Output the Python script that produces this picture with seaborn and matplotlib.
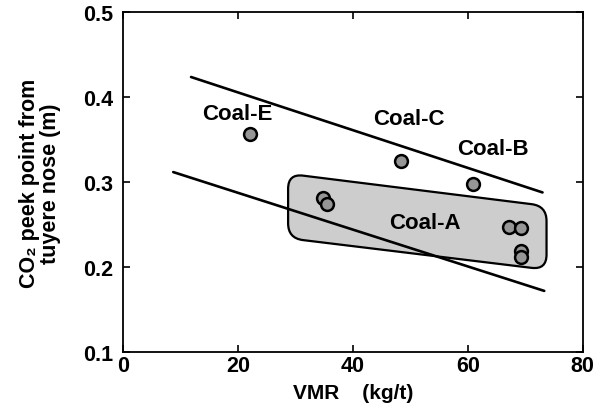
import numpy as np
import pandas as pd
import matplotlib
matplotlib.use("Agg")
import matplotlib.pyplot as plt
from matplotlib.path import Path
from matplotlib.patches import PathPatch
import seaborn as sns

# ---- data ----
vmr = [22.1, 48.4, 60.9, 34.7, 35.4, 67.1, 69.3, 69.2, 69.2]
co2_peak = [0.357, 0.325, 0.298, 0.282, 0.274, 0.247, 0.246, 0.219, 0.212]
coal = ["E", "C", "B", "A", "A", "A", "A", "A", "A"]

upper_x = [11.8, 73.0]
upper_y = [0.424, 0.288]
lower_x = [8.7, 73.3]
lower_y = [0.312, 0.172]

box_x = [28.7, 73.7, 73.7, 28.7]
box_y = [0.310, 0.272, 0.197, 0.234]

label_text = ["Coal-E", "Coal-C", "Coal-B", "Coal-A"]
label_x = [19.8, 49.8, 64.3, 52.5]
label_y = [0.381, 0.375, 0.340, 0.253]

xticks = [0, 20, 40, 60, 80]
yticks = [0.1, 0.2, 0.3, 0.4, 0.5]

# ---- style ----
sns.set_theme(style="ticks")
plt.rcParams["font.family"] = ["Liberation Sans", "DejaVu Sans"]
plt.rcParams["font.weight"] = "bold"
plt.rcParams["text.color"] = "black"
plt.rcParams["axes.labelcolor"] = "black"
plt.rcParams["xtick.color"] = "black"
plt.rcParams["ytick.color"] = "black"

fig = plt.figure(figsize=(6.13, 4.14), dpi=100)
ax = fig.add_axes([0.2011, 0.1473, 0.7495, 0.8201])
ax.set_xlim(0, 80)
ax.set_ylim(0.1, 0.5)

df = pd.DataFrame({"VMR": vmr, "peak": co2_peak, "coal": coal})
lines = pd.DataFrame({
    "x": upper_x + lower_x,
    "y": upper_y + lower_y,
    "line": ["upper"] * len(upper_x) + ["lower"] * len(lower_x),
})

# rounded box (Coal-A group)
def rounded_box(xs, ys, r):
    pts = ax.transData.transform(np.column_stack([xs, ys]))
    n = len(pts)
    verts, codes = [], []
    for i in range(n):
        p = pts[i]
        prev = pts[i - 1]
        nxt = pts[(i + 1) % n]
        a = p + (prev - p) / np.linalg.norm(prev - p) * r
        b = p + (nxt - p) / np.linalg.norm(nxt - p) * r
        verts.append(a)
        codes.append(Path.MOVETO if i == 0 else Path.LINETO)
        verts += [p, b]
        codes += [Path.CURVE3, Path.CURVE3]
    verts.append(verts[0])
    codes.append(Path.CLOSEPOLY)
    data_verts = ax.transData.inverted().transform(np.array(verts))
    return Path(data_verts, codes)

patch = PathPatch(rounded_box(box_x, box_y, 15), facecolor="#cdcdcd",
                  edgecolor="black", lw=1.6, zorder=1)
ax.add_patch(patch)

sns.lineplot(data=lines, x="x", y="y", units="line", estimator=None,
             sort=False, color="black", lw=1.9, ax=ax, zorder=2, legend=False)

sns.scatterplot(data=df, x="VMR", y="peak", s=85, color="#969696",
                edgecolor="black", linewidth=1.8, ax=ax, zorder=3, legend=False)

for t, x, y in zip(label_text, label_x, label_y):
    ax.text(x, y, t, ha="center", va="center", fontsize=16,
            fontweight="bold", zorder=4)

ax.set_xticks(xticks)
ax.set_yticks(yticks)
ax.set_xticklabels([str(v) for v in xticks])
ax.set_yticklabels([f"{v:.1f}" for v in yticks])
ax.tick_params(direction="in", length=5, width=1.2, top=True, right=True,
               labelsize=15.5)
ax.tick_params(axis="y", pad=7)
ax.tick_params(axis="x", pad=2)
for lab in ax.get_xticklabels() + ax.get_yticklabels():
    lab.set_fontweight("bold")
for sp in ax.spines.values():
    sp.set_linewidth(1.3)
    sp.set_color("black")

ax.set_xlabel("VMR    (kg/t)", fontsize=15, fontweight="bold", labelpad=5)
ax.set_ylabel("CO\u2082 peek point from\ntuyere nose (m)", fontsize=15.5,
              fontweight="bold", labelpad=16, linespacing=1.0)

fig.savefig("out.png", dpi=100, facecolor="white")
